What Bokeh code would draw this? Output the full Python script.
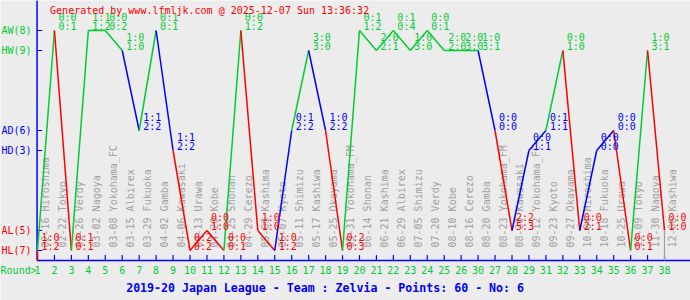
import math
from bokeh.plotting import figure
from bokeh.models import Range1d, ColumnDataSource
from bokeh.core.properties import value
from bokeh.embed import file_html
from bokeh.resources import INLINE

# ---------------- data ----------------
positions = list(range(1, 39))
tick_labels = [str(i) for i in range(1, 27)] + ["30", "27", "28", "29"] + [str(i) for i in range(31, 39)]
dates = ["02-16", "02-22", "02-26", "03-02", "03-08", "03-15", "03-29", "04-02", "04-06", "04-13",
         "04-20", "04-25", "04-29", "05-03", "05-07", "05-11", "05-17", "05-25", "05-31", "06-14",
         "06-21", "06-29", "07-05", "07-20", "08-10", "08-16", "08-20", "08-23", "08-30", "09-12",
         "09-23", "09-27", "10-04", "10-18", "10-25", "11-09", "11-30", "12-06"]
opponents = ["Hiroshima", "Tokyo", "Verdy", "Nagoya", "Yokohama_FC", "Albirex", "Fukuoka", "Gamba",
             "Kawasaki", "Urawa", "Kobe", "Shonan", "Cerezo", "Kashima", "Kyoto", "Shimizu", "Kashiwa",
             "Okayama", "Yokohama_FM", "Shonan", "Kashima", "Albirex", "Shimizu", "Verdy", "Kobe",
             "Cerezo", "Gamba", "Yokohama_FM", "Kawasaki", "Yokohama_FC", "Kyoto", "Okayama",
             "Hiroshima", "Fukuoka", "Urawa", "Tokyo", "Nagoya", "Kashiwa"]
results = ["HL", "AW", "HL", "AW", "AW", "HW", "AD", "AW", "HD", "HL", "AL", "HL", "AW", "AL", "HL",
           "AD", "HW", "AD", "HL", "AW", "HW", "AW", "HW", "AW", "HW", "HW", "HW", "AD", "AL", "HD",
           "AD", "HW", "AL", "HD", "AD", "HL", "HW", "AL"]
ht_scores = ["1:0", "0:0", "0:1", "1:1", "0:0", "1:0", "1:1", "0:1", "1:1", "0:2", "0:0", "0:0", "0:0",
             "1:0", "1:0", "0:1", "3:0", "1:0", "0:2", "0:1", "2:0", "0:1", "1:0", "0:0", "2:0", "2:0",
             "1:0", "0:0", "2:2", "0:0", "0:1", "0:0", "0:0", "0:0", "0:0", "0:0", "1:0", "0:0"]
ft_scores = ["1:2", "0:1", "0:1", "1:2", "0:2", "1:0", "2:2", "0:1", "2:2", "0:2", "1:0", "0:1", "1:2",
             "1:0", "1:2", "2:2", "3:0", "2:2", "0:3", "1:2", "2:1", "0:4", "3:0", "0:1", "2:0", "3:0",
             "3:1", "0:0", "5:3", "1:1", "1:1", "1:0", "2:1", "0:0", "0:0", "0:1", "3:1", "1:0"]
level_codes = ["AW", "HW", "AD", "HD", "AL", "HL"]
level_labels = ["AW(8)", "HW(9)", "AD(6)", "HD(3)", "AL(5)", "HL(7)"]
title_text = "2019-20 Japan League - Team : Zelvia - Points: 60 - No: 6"
generated_text = "Generated by www.lfmljk.com @ 2025-12-07 Sun 13:36:32"
axis_name = "Round>"

# ---------------- layout / style ----------------
LEVEL_Y = {"AW": 11, "HW": 10, "AD": 6, "HD": 5, "AL": 1, "HL": 0}
AXIS_Y = -0.5
AXIS_X = 0.975
GREEN, BLUE, RED, GRAY = "#00cc33", "#0000ff", "#ff0000", "#a0a0a0"
COL = {"W": GREEN, "D": BLUE, "L": RED}
BG = "#ececec"
FONT = value("DejaVu Sans Mono")

p = figure(width=690, height=300, output_backend="svg", toolbar_location=None,
           x_range=Range1d(-1.1834, 39.534), y_range=Range1d(-2.5, 12.5),
           x_axis_type=None, y_axis_type=None, min_border=0)
p.grid.visible = False
p.outline_line_color = None
p.background_fill_color = BG
p.border_fill_color = BG

ys = [LEVEL_Y[r] for r in results]
cols = [COL[r[1]] for r in results]

# date / opponent labels (rotated)
p.text(x=positions, y=[LEVEL_Y["HL"]] * len(positions),
       text=[f"{d} {o}" for d, o in zip(dates, opponents)],
       angle=math.pi / 2, x_offset=8, y_offset=-3,
       text_font=FONT, text_font_size=value("10px"), text_color=GRAY,
       text_align="left", text_baseline="middle")

# axes lines
p.segment(x0=[AXIS_X], y0=[AXIS_Y], x1=[p.x_range.end], y1=[AXIS_Y], line_color=BLUE, line_width=1.5)
p.segment(x0=[AXIS_X], y0=[AXIS_Y], x1=[AXIS_X], y1=[p.y_range.end], line_color=BLUE, line_width=1.5)
# x ticks
p.segment(x0=positions, y0=[AXIS_Y] * 38, x1=positions, y1=[AXIS_Y + 0.27] * 38,
          line_color=BLUE, line_width=1.2)
# y ticks
lv = [LEVEL_Y[c] for c in level_codes]
p.segment(x0=[AXIS_X] * 6, y0=lv, x1=[AXIS_X + 0.3] * 6, y1=lv, line_color=BLUE, line_width=1.2)

# tick labels
p.text(x=positions, y=[AXIS_Y] * 38, text=tick_labels, y_offset=9.5,
       text_font=FONT, text_font_size=value("10px"), text_color=GREEN,
       text_align="center", text_baseline="middle")
p.text(x=[AXIS_X], y=[AXIS_Y], text=[axis_name], x_offset=-36.5, y_offset=9.5,
       text_font=FONT, text_font_size=value("10px"), text_color=GREEN,
       text_align="left", text_baseline="middle")
lvl_cols = [COL[c[1]] for c in level_codes]
p.text(x=[AXIS_X] * 6, y=lv, text=level_labels, x_offset=-5.5,
       text_font=FONT, text_font_size=value("10px"), text_color=lvl_cols,
       text_align="right", text_baseline="middle")

# result path
x0 = [positions[0]] + positions[:-1]
y0 = [AXIS_Y] + ys[:-1]
p.segment(x0=x0, y0=y0, x1=positions, y1=ys, line_color=cols, line_width=1.5)
# last played round marker
p.segment(x0=[positions[-1]], y0=[ys[-1]], x1=[positions[-1]], y1=[AXIS_Y], line_color=GRAY, line_width=1.2)

# score labels
p.text(x=positions, y=ys, text=ht_scores, x_offset=4, y_offset=-13,
       text_font=FONT, text_font_size=value("10px"), text_color=cols,
       text_align="left", text_baseline="middle")
p.text(x=positions, y=ys, text=ft_scores, x_offset=4, y_offset=-4.5,
       text_font=FONT, text_font_size=value("10px"), text_color=cols,
       text_align="left", text_baseline="middle")

# header / footer
p.text(x=[AXIS_X], y=[p.y_range.end], text=[generated_text], x_offset=13, y_offset=9.5,
       text_font=FONT, text_font_size=value("10px"), text_color=RED,
       text_align="left", text_baseline="middle")
p.text(x=[AXIS_X], y=[AXIS_Y], text=[title_text], x_offset=288, y_offset=27,
       text_font=FONT, text_font_size=value("11.6px"), text_font_style="bold", text_color=BLUE,
       text_align="center", text_baseline="middle")

open("out.html", "w").write(file_html(p, INLINE))
